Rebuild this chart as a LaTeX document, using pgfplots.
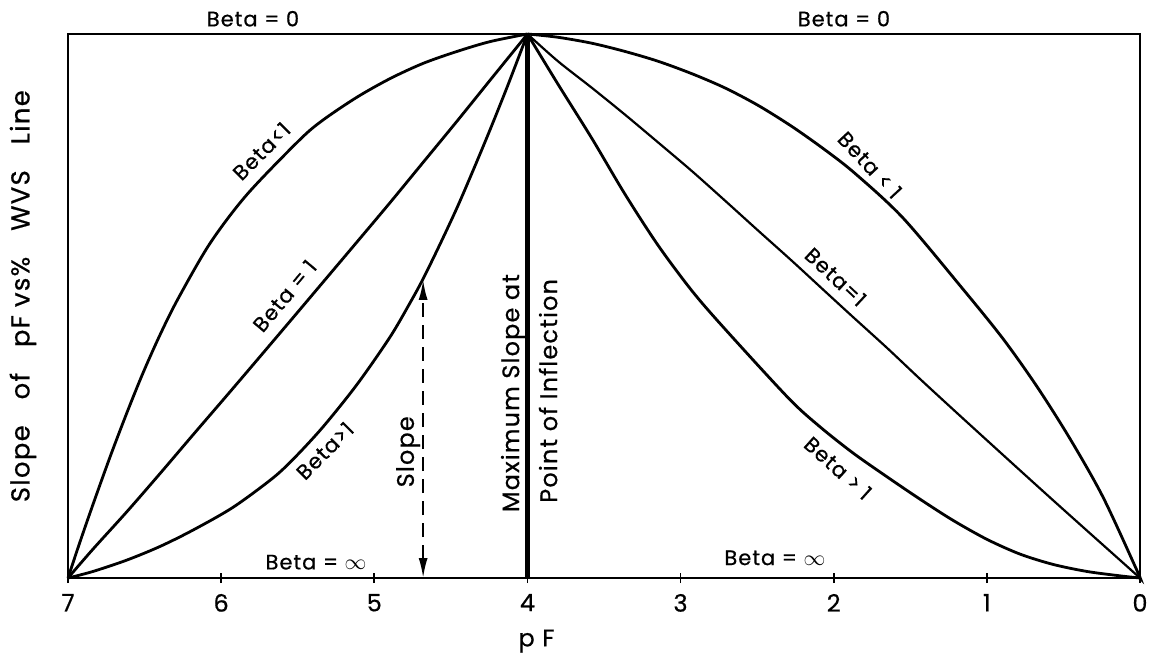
\documentclass[border=0pt]{standalone}
\usepackage{fontspec}
\setmainfont{Poppins}[FakeBold=0.6, LetterSpace=5]
\usepackage{pgfplots}
\pgfplotsset{compat=1.18}
\usetikzlibrary{arrows.meta}

\begin{document}
\begin{tikzpicture}
\begin{axis}[
    scale only axis,
    width=536bp, height=272bp,
    x dir=reverse,
    xmin=0, xmax=7, ymin=0, ymax=1,
    xtick={0,1,2,3,4,5,6,7},
    ytick=\empty,
    xtick pos=bottom,
    tick align=center,
    major tick length=5bp,
    every tick/.style={black, line width=0.9bp},
    /pgf/number format/assume math mode=true,
    xticklabel style={font=\fontsize{12}{12}\selectfont, yshift=-2bp},
    axis line style={line width=1bp},
    clip=false,
]
% left branch, pF 7 -> 4
% Beta < 1
\addplot[black, line width=1.4bp, smooth] coordinates {
  (7,0) (6.922,0.066) (6.837,0.135) (6.726,0.222) (6.615,0.304)
  (6.510,0.377) (6.399,0.447) (6.282,0.513) (6.073,0.615) (5.831,0.705)
  (5.485,0.806) (5.334,0.842) (5.112,0.884) (4.897,0.918) (4.681,0.946)
  (4.459,0.968) (4.244,0.986) (4,1)};
% Beta = 1
\addplot[black, line width=1.4bp, smooth] coordinates {
  (7,0) (6.837,0.053) (6.615,0.122) (6.399,0.192) (6.184,0.263)
  (5.961,0.336) (5.746,0.407) (5.517,0.483) (5.334,0.544) (5.112,0.618)
  (4.897,0.690) (4.681,0.764) (4.459,0.840) (4.244,0.915) (4.028,0.990) (4,1)};
% Beta > 1
\addplot[black, line width=1.4bp, smooth] coordinates {
  (7,0) (6.837,0.012) (6.615,0.033) (6.399,0.058) (6.184,0.088)
  (5.922,0.130) (5.661,0.184) (5.517,0.222) (5.334,0.278) (5.112,0.356)
  (4.897,0.443) (4.766,0.506) (4.681,0.550) (4.570,0.614) (4.459,0.681)
  (4.355,0.749) (4.244,0.824) (4.133,0.902) (4.028,0.979) (4,1)};
% right branch, pF 4 -> 0
% Beta < 1
\addplot[black, line width=1.4bp, smooth] coordinates {
  (4,1) (3.801,0.994) (3.579,0.983) (3.364,0.968) (3.148,0.950)
  (2.926,0.927) (2.711,0.901) (2.495,0.869) (2.273,0.830) (2.057,0.787)
  (1.862,0.744) (1.548,0.662) (1.156,0.531) (0.895,0.440) (0.673,0.352)
  (0.457,0.256) (0.242,0.149) (0.020,0.014) (0,0)};
% Beta = 1
\addplot[black, line width=1.1bp, smooth] coordinates {
  (4,1) (3.801,0.950) (3.579,0.901) (3.364,0.852) (3.148,0.801)
  (2.926,0.748) (2.711,0.694) (2.495,0.639) (2.273,0.583) (2.057,0.527)
  (1.875,0.480) (1.652,0.423) (1.437,0.366) (1.221,0.310) (0.999,0.253)
  (0.784,0.198) (0.568,0.143) (0.346,0.087) (0.131,0.033) (0,0)};
% Beta > 1
\addplot[black, line width=1.4bp, smooth] coordinates {
  (4,1) (3.801,0.908) (3.579,0.808) (3.364,0.706) (3.148,0.612)
  (2.926,0.528) (2.711,0.458) (2.293,0.330) (2.090,0.278) (1.875,0.230)
  (1.652,0.186) (1.437,0.145) (1.221,0.106) (0.999,0.071) (0.784,0.044)
  (0.568,0.025) (0.346,0.012) (0.131,0.004) (0,0)};
% inflection line and slope arrow
\addplot[black, line width=2.2bp] coordinates {(4,0) (4,1)};
\addplot[black, line width=1bp, dash pattern=on 7bp off 4bp,
  {Latex[length=10bp,width=4.5bp]}-{Latex[length=10bp,width=4.5bp]}]
  coordinates {(4.681,0) (4.681,0.548)};

\begin{scope}[font=\fontsize{10.5}{12}\selectfont]
\node at (axis cs:5.792,1.028) {Beta = 0};
\node at (axis cs:1.933,1.028) {Beta = 0};
\node[rotate=45, yshift=2.5bp] at (axis cs:5.713,0.778) {Beta<1};
\node[rotate=50, yshift=1.5bp] at (axis cs:5.570,0.515) {Beta = 1};
\node[rotate=45, yshift=-2bp] at (axis cs:5.341,0.239) {Beta>1};
\node at (axis cs:5.380,0.029) {Beta = $\infty$};
\node at (axis cs:2.384,0.037) {Beta = $\infty$};
\node[rotate=-47, yshift=2bp] at (axis cs:1.783,0.754) {Beta < 1};
\node[rotate=-43, yshift=2bp] at (axis cs:2.005,0.548) {Beta=1};
\node[rotate=-42, yshift=-1.5bp] at (axis cs:1.959,0.206) {Beta > 1};
\end{scope}
\begin{scope}[font=\fontsize{12}{12}\selectfont]
\node[rotate=90] at (axis cs:4.779,0.232) {Slope};
\node[rotate=90] at (axis cs:4.093,0.340) {Maximum Slope at};
\node[rotate=90] at (axis cs:3.865,0.344) {Point of Inflection};
\node at (axis cs:3.941,-0.116) {p F};
\node[rotate=90, font=\fontsize{13}{13}\selectfont] at (axis cs:7.294,0.518)
  {Slope\quad of\quad pF vs\%\quad WVS\quad Line};
\end{scope}
\coordinate (bbsw) at (rel axis cs:0,0);
\coordinate (bbne) at (rel axis cs:1,1);
\end{axis}
\pgfresetboundingbox
\useasboundingbox ([shift={(-34bp,-39.5bp)}]bbsw) rectangle ([shift={(9bp,17bp)}]bbne);
\end{tikzpicture}
\end{document}
